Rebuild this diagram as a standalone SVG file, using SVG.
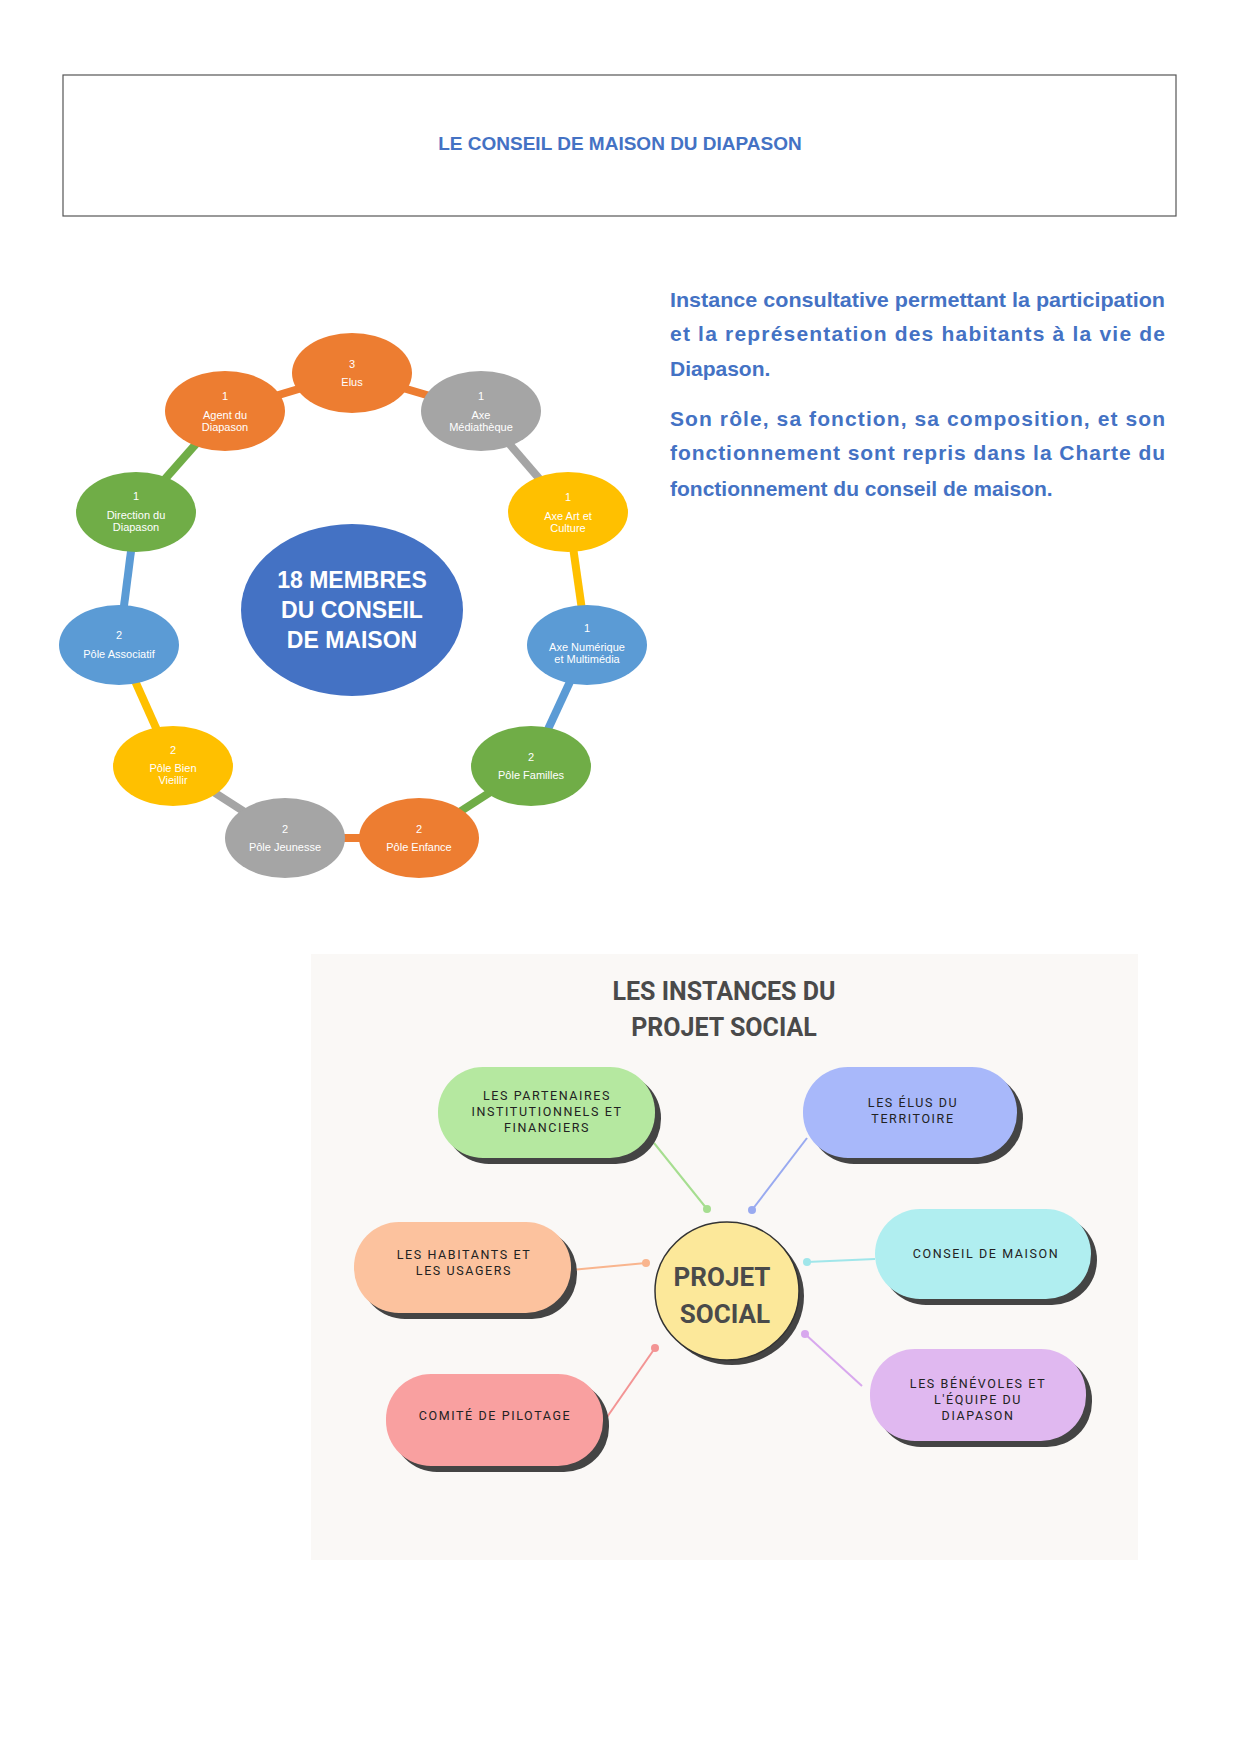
<svg xmlns="http://www.w3.org/2000/svg" width="1241" height="1755" viewBox="0 0 1241 1755">
<style>
.nt{font-family:"Liberation Sans Narrow","Liberation Sans",sans-serif;font-size:11px;fill:#fff;text-anchor:middle}
.par{font-family:"Liberation Sans",sans-serif;font-size:21px;font-weight:bold;fill:#4472C4}
.pt{font-family:Roboto,"Liberation Sans",sans-serif;font-size:12.5px;fill:#222;text-anchor:middle;letter-spacing:1.6px}
.sh{fill:#444}
</style>
<rect width="1241" height="1755" fill="#fff"/>
<rect x="63" y="75" width="1113" height="141" fill="#fff" stroke="#555" stroke-width="1.2"/>
<text x="620" y="150" text-anchor="middle" font-family="Liberation Sans,sans-serif" font-size="19" font-weight="bold" fill="#4472C4">LE CONSEIL DE MAISON DU DIAPASON</text>
<g id="paragraph" class="par">
<text x="670" y="307" textLength="495" lengthAdjust="spacingAndGlyphs">Instance consultative permettant la participation</text>
<text x="670" y="341" textLength="495" lengthAdjust="spacing">et la représentation des habitants à la vie de</text>
<text x="670" y="376">Diapason.</text>
<text x="670" y="426" textLength="495" lengthAdjust="spacing">Son rôle, sa fonction, sa composition, et son</text>
<text x="670" y="460" textLength="495" lengthAdjust="spacing">fonctionnement sont repris dans la Charte du</text>
<text x="670" y="496">fonctionnement du conseil de maison.</text>
</g>
<g id="ring-connectors" stroke-width="8" fill="none">
<line x1="352" y1="373" x2="481" y2="411" stroke="#ED7D31"/>
<line x1="481" y1="411" x2="568" y2="512" stroke="#A5A5A5"/>
<line x1="568" y1="512" x2="587" y2="645" stroke="#FFC000"/>
<line x1="587" y1="645" x2="531" y2="766" stroke="#5B9BD5"/>
<line x1="531" y1="766" x2="419" y2="838" stroke="#70AD47"/>
<line x1="419" y1="838" x2="285" y2="838" stroke="#ED7D31"/>
<line x1="285" y1="838" x2="173" y2="766" stroke="#A5A5A5"/>
<line x1="173" y1="766" x2="119" y2="645" stroke="#FFC000"/>
<line x1="119" y1="645" x2="136" y2="512" stroke="#5B9BD5"/>
<line x1="136" y1="512" x2="225" y2="411" stroke="#70AD47"/>
<line x1="225" y1="411" x2="352" y2="373" stroke="#ED7D31"/>
</g>
<g id="center"><ellipse cx="352" cy="610" rx="111" ry="86" fill="#4472C4"/>
<g font-family="Liberation Sans,sans-serif" font-size="23" font-weight="bold" fill="#fff" text-anchor="middle"><text x="352" y="588">18 MEMBRES</text><text x="352" y="618">DU CONSEIL</text><text x="352" y="648">DE MAISON</text></g></g>
<g id="n-elus"><ellipse cx="352" cy="373" rx="60" ry="40" fill="#ED7D31"/><text class="nt" x="352" y="368">3</text><text class="nt" x="352" y="386">Elus</text></g>
<g id="n-media"><ellipse cx="481" cy="411" rx="60" ry="40" fill="#A5A5A5"/><text class="nt" x="481" y="400">1</text><text class="nt" x="481" y="419">Axe</text><text class="nt" x="481" y="431">Médiathèque</text></g>
<g id="n-art"><ellipse cx="568" cy="512" rx="60" ry="40" fill="#FFC000"/><text class="nt" x="568" y="501">1</text><text class="nt" x="568" y="520">Axe Art et</text><text class="nt" x="568" y="532">Culture</text></g>
<g id="n-num"><ellipse cx="587" cy="645" rx="60" ry="40" fill="#5B9BD5"/><text class="nt" x="587" y="632">1</text><text class="nt" x="587" y="651">Axe Numérique</text><text class="nt" x="587" y="663">et Multimédia</text></g>
<g id="n-fam"><ellipse cx="531" cy="766" rx="60" ry="40" fill="#70AD47"/><text class="nt" x="531" y="761">2</text><text class="nt" x="531" y="779">Pôle Familles</text></g>
<g id="n-enf"><ellipse cx="419" cy="838" rx="60" ry="40" fill="#ED7D31"/><text class="nt" x="419" y="833">2</text><text class="nt" x="419" y="851">Pôle Enfance</text></g>
<g id="n-jeu"><ellipse cx="285" cy="838" rx="60" ry="40" fill="#A5A5A5"/><text class="nt" x="285" y="833">2</text><text class="nt" x="285" y="851">Pôle Jeunesse</text></g>
<g id="n-bv"><ellipse cx="173" cy="766" rx="60" ry="40" fill="#FFC000"/><text class="nt" x="173" y="754">2</text><text class="nt" x="173" y="772">Pôle Bien</text><text class="nt" x="173" y="784">Vieillir</text></g>
<g id="n-asso"><ellipse cx="119" cy="645" rx="60" ry="40" fill="#5B9BD5"/><text class="nt" x="119" y="639">2</text><text class="nt" x="119" y="658">Pôle Associatif</text></g>
<g id="n-dir"><ellipse cx="136" cy="512" rx="60" ry="40" fill="#70AD47"/><text class="nt" x="136" y="500">1</text><text class="nt" x="136" y="519">Direction du</text><text class="nt" x="136" y="531">Diapason</text></g>
<g id="n-agent"><ellipse cx="225" cy="411" rx="60" ry="40" fill="#ED7D31"/><text class="nt" x="225" y="400">1</text><text class="nt" x="225" y="419">Agent du</text><text class="nt" x="225" y="431">Diapason</text></g>

<rect x="311" y="954" width="827" height="606" fill="#FAF8F6"/>
<g font-family="Roboto,Liberation Sans,sans-serif" font-size="25" font-weight="bold" fill="#4a4a4a" text-anchor="middle"><text x="724" y="1000">LES INSTANCES DU</text><text x="724" y="1036">PROJET SOCIAL</text></g>
<g id="connectors" stroke-width="2">
<line x1="654" y1="1143" x2="707" y2="1209" stroke="#A6DE90"/><circle cx="707" cy="1209" r="4" fill="#A6DE90"/>
<line x1="807" y1="1138" x2="752" y2="1210" stroke="#99AAF0"/><circle cx="752" cy="1210" r="4" fill="#99AAF0"/>
<line x1="571" y1="1270" x2="646" y2="1263" stroke="#F9B58E"/><circle cx="646" cy="1263" r="4" fill="#F9B58E"/>
<line x1="875" y1="1259" x2="807" y2="1262" stroke="#A0E6EA"/><circle cx="807" cy="1262" r="4" fill="#A0E6EA"/>
<line x1="862" y1="1386" x2="805" y2="1334" stroke="#D8A8EE"/><circle cx="805" cy="1334" r="4" fill="#D8A8EE"/>
<line x1="605" y1="1420" x2="655" y2="1348" stroke="#F39494"/><circle cx="655" cy="1348" r="4" fill="#F39494"/>
</g>
<g id="projet"><ellipse cx="732" cy="1296" rx="72" ry="69" fill="#444"/><ellipse cx="727" cy="1291" rx="72" ry="69" fill="#FCE89A" stroke="#333" stroke-width="1.5"/>
<g font-family="Roboto,Liberation Sans,sans-serif" font-size="26" font-weight="bold" fill="#4a4a4a" text-anchor="middle"><text x="722" y="1286">PROJET</text><text x="725" y="1323">SOCIAL</text></g></g>
<g id="p-part"><rect class="sh" x="444" y="1073" width="217" height="91" rx="45"/><rect x="438" y="1067" width="217" height="91" rx="45" fill="#B5E8A0"/><text class="pt" x="547" y="1100">LES PARTENAIRES</text><text class="pt" x="547" y="1116">INSTITUTIONNELS ET</text><text class="pt" x="547" y="1132">FINANCIERS</text></g>
<g id="p-elus"><rect class="sh" x="809" y="1073" width="214" height="91" rx="45"/><rect x="803" y="1067" width="214" height="91" rx="45" fill="#A8B8FA"/><text class="pt" x="913" y="1107">LES ÉLUS DU</text><text class="pt" x="913" y="1123">TERRITOIRE</text></g>
<g id="p-hab"><rect class="sh" x="360" y="1228" width="217" height="91" rx="45"/><rect x="354" y="1222" width="217" height="91" rx="45" fill="#FCC29E"/><text class="pt" x="464" y="1259">LES HABITANTS ET</text><text class="pt" x="464" y="1275">LES USAGERS</text></g>
<g id="p-cons"><rect class="sh" x="881" y="1215" width="216" height="90" rx="45"/><rect x="875" y="1209" width="216" height="90" rx="45" fill="#B0EEF0"/><text class="pt" x="986" y="1258">CONSEIL DE MAISON</text></g>
<g id="p-com"><rect class="sh" x="392" y="1380" width="217" height="92" rx="45"/><rect x="386" y="1374" width="217" height="92" rx="45" fill="#F9A0A0"/><text class="pt" x="495" y="1420">COMITÉ DE PILOTAGE</text></g>
<g id="p-ben"><rect class="sh" x="876" y="1355" width="216" height="92" rx="45"/><rect x="870" y="1349" width="216" height="92" rx="45" fill="#E0B8F0"/><text class="pt" x="978" y="1388">LES BÉNÉVOLES ET</text><text class="pt" x="978" y="1404">L'ÉQUIPE DU</text><text class="pt" x="978" y="1420">DIAPASON</text></g>
</svg>
